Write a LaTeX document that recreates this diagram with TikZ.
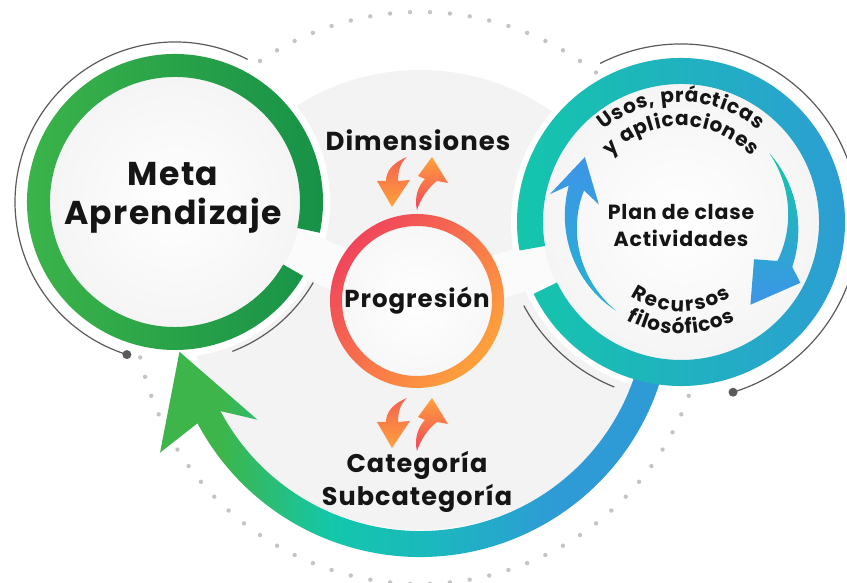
\documentclass[tikz,border=0pt]{standalone}
\usepackage{fontspec}
\setmainfont{Poppins}[LetterSpace=4]
\usetikzlibrary{arrows.meta,decorations.text}

\definecolor{gOne}{HTML}{3DB54A}
\definecolor{gTwo}{HTML}{159047}
\definecolor{tealA}{HTML}{13C7AA}
\definecolor{tealB}{HTML}{1BB8BE}
\definecolor{blueA}{HTML}{2E9BD6}
\definecolor{redA}{HTML}{F0455B}
\definecolor{orangeA}{HTML}{FFA23B}
\definecolor{arrBlue}{HTML}{3D94E8}
\definecolor{arrCyan}{HTML}{25B4D0}
\definecolor{dotgray}{HTML}{C4C4C4}
\definecolor{arcgray}{HTML}{5A5A5A}
\definecolor{bggray}{HTML}{F3F3F3}
\definecolor{ink}{HTML}{151515}

\pgfdeclarehorizontalshading{sweep}{100bp}{color(0bp)=(gOne); color(31bp)=(gOne);
  color(42bp)=(tealA); color(52bp)=(tealB); color(64bp)=(blueA); color(100bp)=(blueA)}

\newcommand\arcfont{\bfseries\fontsize{20}{20}\selectfont}

\tikzset{
  lbl/.style={align=center, text=ink, inner sep=0pt},
  thinarc/.style={arcgray, line width=1.2pt},
  curved/.style 2 args={decorate, decoration={text effects along path, text={#1}, text align=center,
      text effects/.cd, text along path,
      characters={font=\arcfont, text=ink, inner xsep=#2, inner ysep=0pt, anchor=base}}},
}

\begin{document}
\begin{tikzpicture}[x=1pt,y=1pt]
\useasboundingbox (0,0) rectangle (847,583);

% dotted circle behind everything
\foreach \a in {0,4,...,356}
  \fill[dotgray] ([shift={(420,285)}]\a:286) circle[radius=2.2];

% light background disk
\fill[bggray] (420,283) circle[radius=230];

% white disks under the two big rings
\fill[white] (175,381) circle[radius=155];
\fill[white] (681,361) circle[radius=170];

% thin grey arcs with end dots
\begin{scope}[shift={(175,381)}]
  \draw[thinarc] (63:160) arc[start angle=63, end angle=252.5, radius=160];
  \draw[thinarc] (-69:160) arc[start angle=-69, end angle=-30, radius=160];
  \fill[arcgray] (252.5:160) circle[radius=4.5];
\end{scope}
\begin{scope}[shift={(681,361)}]
  \draw[thinarc] (117:178) arc[start angle=117, end angle=-73, radius=178];
  \draw[thinarc] (208:178) arc[start angle=208, end angle=248, radius=178];
  \fill[arcgray] (-73:178) circle[radius=4.5];
\end{scope}

% big sweeping arrow from the right ring back to the left ring
\begin{scope}[shift={(420,278)}]
  \shade[shading=sweep] (-15:252) arc[start angle=-15, end angle=-152, radius=252]
    -- (-150.4:299) -- (-169:245) -- (-144.8:199) -- (-152:226)
    arc[start angle=-152, end angle=-15, radius=226] -- cycle;
\end{scope}

% bridges to the centre
\draw[white!97!gray, line width=44pt] (175,381) -- (417,282) -- (681,361);

% left ring
\begin{scope}[shift={(175,381)}]
  \shade[inner color=white, outer color=white!92!gray] (0,0) circle[radius=126];
  \shade[left color=gOne, right color=gTwo] (-12:148) arc[start angle=-12, end angle=330, radius=148]
    -- (330:125) arc[start angle=330, end angle=-12, radius=125] -- cycle;
\end{scope}

% right ring
\begin{scope}[shift={(681,361)}]
  \shade[inner color=white, outer color=white!92!gray] (0,0) circle[radius=139];
  \shade[left color=tealA, right color=blueA] (206:164) arc[start angle=206, end angle=550, radius=164]
    -- (550:138) arc[start angle=550, end angle=206, radius=138] -- cycle;
  % inner arrows
  \shade[top color=arrBlue, bottom color=arrCyan]
    plot[domain=234:162, samples=25] (\x:{110+8*(234-\x)/72})
    -- (168:134) -- (146:116) -- (168:84) -- (162:102)
    -- plot[domain=162:234, samples=25] (\x:{110-8*(234-\x)/72}) -- cycle;
  \shade[top color=tealA, bottom color=arrBlue]
    plot[domain=38:-22, samples=25] (\x:{112+8*(38-\x)/60})
    -- (-27:134) -- (-50:108) -- (-27:82) -- (-22:104)
    -- plot[domain=-22:38, samples=25] (\x:{112-8*(38-\x)/60}) -- cycle;
  % curved labels
  \path[curved={Usos, prácticas}{0.3pt}] (150:120) arc[start angle=150, end angle=30, radius=120];
  \path[curved={y aplicaciones}{0.3pt}] (150:96) arc[start angle=150, end angle=30, radius=96];
  \path[curved={Recursos}{0.9pt}] (210:90) arc[start angle=210, end angle=330, radius=90];
  \path[curved={filosóficos}{0.4pt}] (210:112) arc[start angle=210, end angle=330, radius=112];
\end{scope}

% centre ring
\shade[inner color=white, outer color=white!94!gray] (417,282) circle[radius=76];
\shade[top color=redA, bottom color=orangeA, shading angle=50, even odd rule]
  (417,282) circle[radius=87] circle[radius=75];

% small swooshes (upper pair, lower pair)
\foreach \dy in {0,-241}{
  \begin{scope}[yshift=\dy]
    \shade[top color=redA!70!orangeA, bottom color=orangeA]
      (407,426) .. controls (392,420) and (386,411) .. (386,402) -- (377,402)
      -- (392,376) -- (410,403) -- (398,402) .. controls (398,411) and (400,420) .. (407,426) -- cycle;
    \shade[top color=orangeA, bottom color=redA]
      (417,373) .. controls (414,385) and (418,397) .. (425,404) -- (418,407)
      -- (432,426) -- (448,400) -- (437,402) .. controls (428,395) and (421,385) .. (417,373) -- cycle;
  \end{scope}
}

% labels
\node[lbl, font=\bfseries\fontsize{33}{39}\selectfont] (meta) at (173,385) {Meta\\Aprendizaje};
\node[lbl, font=\bfseries\fontsize{26}{26}\selectfont] (dim) at (418,443) {Dimensiones};
\node[lbl, font=\bfseries\fontsize{24.5}{24.5}\selectfont] (prog) at (417,282) {Progresión};
\node[lbl, font=\bfseries\fontsize{25.5}{33}\selectfont] (cat) at (417,101) {Categoría\\Subcategoría};
\node[lbl, font=\bfseries\fontsize{20.5}{27}\selectfont] (plan) at (681,357) {Plan de clase\\Actividades};
\end{tikzpicture}
\end{document}
